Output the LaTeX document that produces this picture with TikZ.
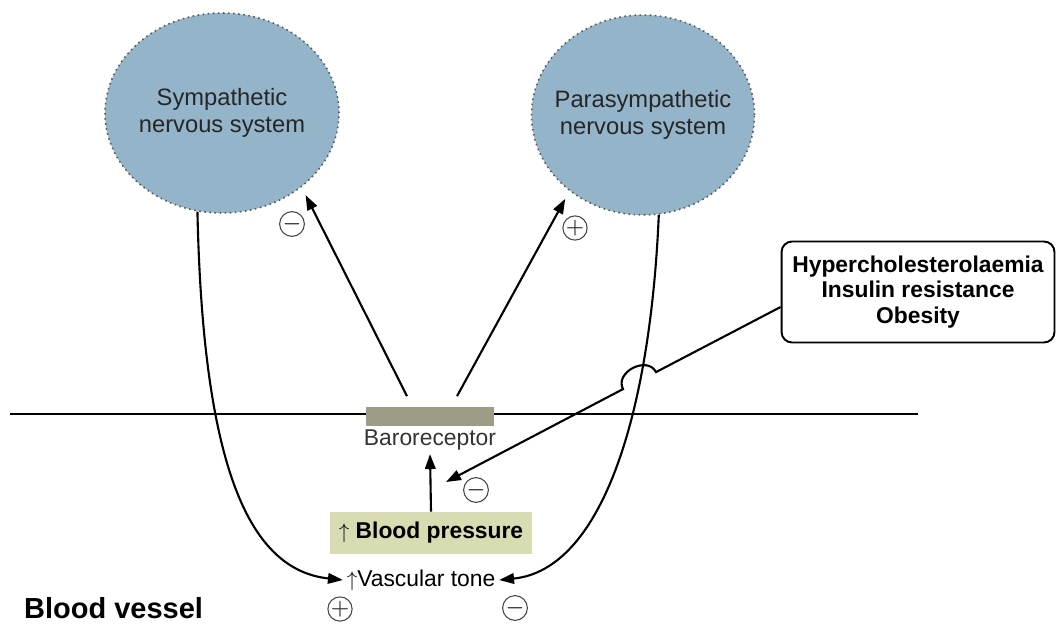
\documentclass[tikz,border=0pt]{standalone}
\usepackage{fontspec}
\setmainfont{Liberation Sans}
\usetikzlibrary{shapes.geometric,arrows.meta,calc}
\definecolor{nsblue}{HTML}{93B4C9}
\definecolor{barogray}{HTML}{9E9C86}
\definecolor{bpfill}{HTML}{D9DCB2}
\definecolor{signgray}{HTML}{444444}
\begin{document}
\begin{tikzpicture}[x=0.02cm,y=-0.02cm,
  nsnode/.style={ellipse, fill=nsblue, draw=black!65, dotted, line width=0.9pt,
    minimum width=4.46cm, minimum height=4cm, inner sep=-12pt, align=center,
    font=\fontsize{13.5}{15.5}\selectfont, text=black!85},
  conn/.style={line width=1.2pt, -{Triangle[length=8.5pt,width=6pt]}},
  sgn/.style={circle, draw=signgray, line width=0.6pt, minimum size=0.44cm,
    inner sep=0pt, text=black!80, font=\boldmath\fontsize{13}{13}\selectfont},
  plaintext/.style={font=\fontsize{13}{15}\selectfont}
]
\useasboundingbox (0,0) rectangle (1060,628);

% nervous systems
\node[nsnode, minimum width=4.68cm] (symp) at (222,113) {Sympathetic\\nervous system};
\node[nsnode] (para) at (643,115) {Parasympathetic\\nervous system};

% risk factors
\node[draw, rounded corners=6pt, line width=1.1pt, minimum width=5.46cm,
  minimum height=2.02cm, align=center,
  font=\bfseries\fontsize{13}{14.5}\selectfont] (risk) at (918,292)
  {Hypercholesterolaemia\\Insulin resistance\\Obesity};

% membrane
\draw[line width=1.3pt] (10,414) -- (918,414);
\node[fill=barogray, minimum width=2.58cm, minimum height=0.38cm, inner sep=0pt] (baro) at (430,416) {};
\node[plaintext, text=black!80, inner sep=1pt] (barolabel) at (430,440) {Baroreceptor};

% blood pressure and vascular tone
\node[fill=bpfill, minimum width=4.06cm, minimum height=0.84cm,
  font=\bfseries\fontsize{13}{15}\selectfont] (bp) at (431,533) {$\uparrow$ Blood pressure};
\node[plaintext, inner sep=2pt] (vasc) at (421,580) {$\uparrow$Vascular tone};
\node[anchor=west, font=\bfseries\fontsize{16.5}{18}\selectfont] (vessel) at (18,608) {Blood vessel};

% connectors
\draw[conn, shorten >=5pt] ($(baro.north)+(-23,-10)$) -- (symp.-43);
\draw[conn, shorten >=5pt] ($(baro.north)+(27,-10)$) -- (para.-134);
\draw[conn, shorten >=1pt] (bp.north) -- (barolabel.south);
\draw[conn] (symp.-104) .. controls (203,470) and (250,570) .. (vasc.west);
\draw[conn] (para.-81) .. controls (650,420) and (600,570) .. (vasc.east);

\coordinate (hopA) at (623,389.1);
\coordinate (hopB) at (656,372.1);
\coordinate (inhib) at (446,482);
\draw[conn] ($(risk.west)+(0,15)$) -- (hopB) .. controls (647.3,355.2) and (614.3,372.2) .. (hopA) -- (inhib);

% signs
\node[sgn] (s1) at (292,224) {$-$};
\node[sgn] (s2) at (575,228) {$+$};
\node[sgn] (s3) at (476,490) {$-$};
\node[sgn] (s4) at (340,609) {$+$};
\node[sgn] (s5) at (515,608) {$-$};
\end{tikzpicture}
\end{document}
